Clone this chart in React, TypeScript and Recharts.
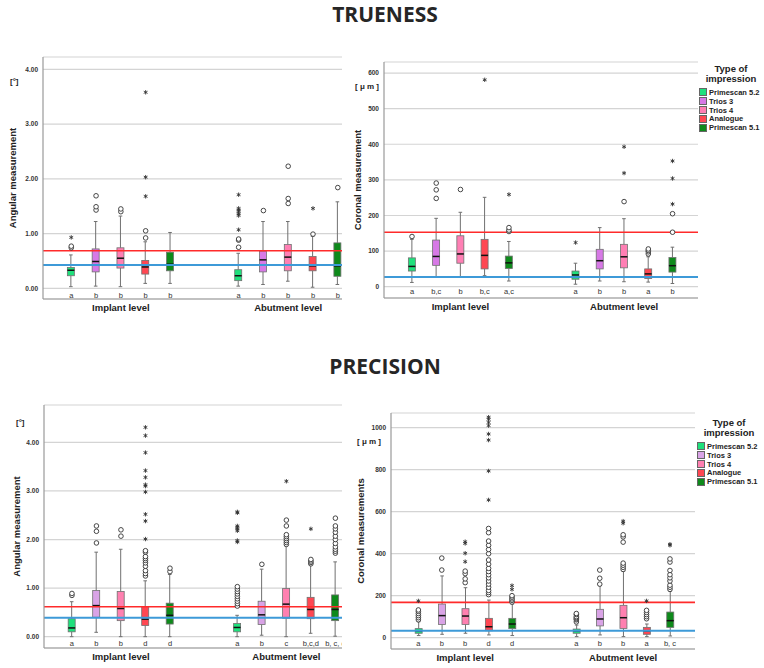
import React from 'react';
import { ComposedChart, Bar, Scatter, XAxis, YAxis, CartesianGrid, ReferenceLine } from 'recharts';

const groups = ['Primescan 5.2', 'Trios 3', 'Trios 4', 'Analogue', 'Primescan 5.1'];
const positions = [1, 2, 3, 4, 5, 7.75, 8.75, 9.75, 10.75, 11.75];
const levelTicks = [3, 9.75];
const levelNames = ['Implant level', 'Abutment level'];

const truenessColors = ['#1fe07c', '#d779e6', '#ff7fb4', '#ff4752', '#0e8a1b'];
const precisionColors = ['#1fe07c', '#d9a3e6', '#ff80b0', '#ff4752', '#0e8a1b'];

// trueness, angular [°]
const taMin = [0.03, 0.04, 0.03, 0.09, 0.09, 0.04, 0.07, 0.13, 0.02, 0.07];
const taQ1 = [0.23, 0.3, 0.37, 0.26, 0.32, 0.14, 0.3, 0.32, 0.32, 0.22];
const taMed = [0.33, 0.49, 0.55, 0.39, 0.44, 0.23, 0.52, 0.57, 0.41, 0.41];
const taQ3 = [0.38, 0.72, 0.74, 0.51, 0.66, 0.34, 0.68, 0.8, 0.58, 0.83];
const taMax = [0.61, 1.22, 1.32, 0.85, 1.02, 0.64, 1.22, 1.22, 0.95, 1.58];
const taCircles = [[0.74, 0.77], [1.43, 1.49, 1.69], [1.4, 1.45], [0.92, 1.05], [], [0.75, 0.88, 0.9], [1.42], [1.55, 1.64, 2.23], [0.99], [1.84]];
const taStars = [[0.93], [], [], [1.68, 2.03, 3.58], [], [1.07, 1.33, 1.36, 1.4, 1.43, 1.46, 1.71], [], [], [1.46], []];
const taLetters = ['a', 'b', 'b', 'b', 'b', 'a', 'b', 'b', 'b', 'b'];

// trueness, coronal [µm]
const tcMin = [12, 28, 28, 31, 16, 7, 16, 14, 13, 9];
const tcQ1 = [44, 60, 66, 50, 51, 21, 50, 53, 23, 41];
const tcMed = [57, 85, 92, 88, 67, 33, 73, 84, 36, 59];
const tcQ3 = [81, 131, 143, 133, 86, 44, 105, 119, 50, 82];
const tcMax = [133, 192, 209, 251, 127, 66, 166, 191, 84, 111];
const tcCircles = [[141], [248, 272, 291], [273], [], [155, 159, 166], [], [], [239], [92, 98, 102, 106], [153, 205]];
const tcStars = [[], [], [], [581], [259], [124], [], [319, 393], [], [232, 304, 353]];
const tcLetters = ['a', 'b,c', 'b', 'b,c', 'a,c', 'a', 'b', 'b', 'a', 'b'];

// precision, angular [°]
const paMin = [0, 0.09, 0, 0, 0, 0, 0.03, 0, 0.07, 0.01];
const paQ1 = [0.1, 0.4, 0.33, 0.23, 0.26, 0.1, 0.25, 0.38, 0.37, 0.33];
const paMed = [0.18, 0.64, 0.58, 0.36, 0.44, 0.19, 0.45, 0.67, 0.56, 0.56];
const paQ3 = [0.37, 0.95, 0.93, 0.62, 0.69, 0.27, 0.73, 0.99, 0.81, 0.86];
const paMax = [0.72, 1.74, 1.8, 1.15, 1.28, 0.44, 1.39, 1.87, 1.48, 1.54];
const paCircles = [
  [0.85, 0.89],
  [1.93, 2.17, 2.28],
  [2.07, 2.2],
  [1.25, 1.3, 1.36, 1.45, 1.52, 1.57, 1.61, 1.65, 1.74, 1.77],
  [1.34, 1.41],
  [0.63, 0.68, 0.73, 0.78, 0.83, 0.88, 0.93, 0.98, 1.03],
  [1.49],
  [1.9, 1.94, 1.98, 2.02, 2.06, 2.1, 2.28, 2.4],
  [1.5, 1.53, 1.56, 1.59],
  [1.72, 1.76, 1.8, 1.85, 1.92, 2.0, 2.07, 2.15, 2.22, 2.28, 2.44],
];
const paStars = [[], [], [], [2.01, 2.38, 2.52, 2.98, 3.1, 3.13, 3.28, 3.42, 3.79, 4.14, 4.31], [], [1.95, 1.98, 2.18, 2.22, 2.25, 2.28, 2.55, 2.57], [], [3.2], [2.22], []];
const paLetters = ['a', 'b', 'b', 'd', 'd', 'a', 'b', 'c', 'b,c,d', 'b, c, d'];

// precision, coronal [µm]
const pcMin = [10, 16, 21, 13, 10, 5, 13, 5, 5, 8];
const pcQ1 = [21, 63, 63, 33, 43, 21, 56, 44, 16, 49];
const pcMed = [32, 105, 103, 52, 65, 32, 89, 95, 32, 81];
const pcQ3 = [43, 160, 138, 92, 92, 41, 135, 154, 49, 122];
const pcMax = [76, 294, 238, 179, 160, 60, 248, 317, 65, 222];
const pcCircles = [
  [85, 95, 105, 115, 125, 132],
  [322, 379],
  [262, 280, 305, 317],
  [205, 215, 225, 240, 255, 270, 285, 300, 315, 330, 350, 370, 400, 420, 440, 460, 500, 520],
  [170, 178, 185, 193, 200],
  [75, 85, 90, 95, 100, 110, 115],
  [255, 283, 322],
  [325, 335, 345, 355, 455, 480, 490],
  [90, 100, 110, 120, 130],
  [230, 240, 250, 270, 285, 300, 320, 360, 375],
];
const pcStars = [[175], [], [362, 402, 449, 457], [656, 794, 941, 970, 1010, 1025, 1040, 1050], [230, 248], [], [], [545, 555], [175], [440, 445]];
const pcLetters = ['a', 'b', 'b', 'd', 'd', 'a', 'b', 'b', 'a', 'b, c'];

const font = '"Liberation Sans", Arial, sans-serif';

const makeRows = (min: number[], q1: number[], med: number[], q3: number[], max: number[], colors: string[]) =>
  positions.map((x, i) => ({
    x,
    range: [min[i], max[i]],
    min: min[i],
    q1: q1[i],
    med: med[i],
    q3: q3[i],
    max: max[i],
    color: colors[i % 5],
  }));

const makeOutliers = (circles: number[][], stars: number[][]) => {
  const out: { x: number; y: number; kind: string }[] = [];
  positions.forEach((x, i) => {
    circles[i].forEach(y => out.push({ x, y, kind: 'o' }));
    stars[i].forEach(y => out.push({ x, y, kind: '*' }));
  });
  return out;
};

const BoxShape = (props: any) => {
  const { x, y, width, height, payload } = props;
  if (!payload) return null;
  const top = Math.min(y, y + height);
  const h = Math.abs(height);
  const span = payload.max - payload.min || 1;
  const py = (v: number) => top + (h * (payload.max - v)) / span;
  const cx = x + width / 2;
  const bw = 7;
  const line = '#707070';
  return (
    <g>
      <line x1={cx} x2={cx} y1={py(payload.max)} y2={py(payload.q3)} stroke={line} strokeWidth={1} />
      <line x1={cx} x2={cx} y1={py(payload.q1)} y2={py(payload.min)} stroke={line} strokeWidth={1} />
      <line x1={cx - 1.8} x2={cx + 1.8} y1={py(payload.max)} y2={py(payload.max)} stroke={line} strokeWidth={1} />
      <line x1={cx - 1.8} x2={cx + 1.8} y1={py(payload.min)} y2={py(payload.min)} stroke={line} strokeWidth={1} />
      <rect x={cx - bw / 2} y={py(payload.q3)} width={bw} height={py(payload.q1) - py(payload.q3)} fill={payload.color} stroke={line} strokeWidth={0.8} />
      <line x1={cx - bw / 2} x2={cx + bw / 2} y1={py(payload.med)} y2={py(payload.med)} stroke="#111" strokeWidth={1.5} />
    </g>
  );
};

const OutlierShape = (props: any) => {
  const { cx, cy, payload } = props;
  if (cx == null || cy == null) return null;
  if (payload.kind === 'o') {
    return <circle cx={cx} cy={cy} r={2.3} fill="#fff" stroke="#333" strokeWidth={0.9} />;
  }
  const r = 2.2;
  return (
    <g stroke="#333" strokeWidth={0.9}>
      <line x1={cx} x2={cx} y1={cy - r} y2={cy + r} />
      <line x1={cx - r * 0.87} x2={cx + r * 0.87} y1={cy - r / 2} y2={cy + r / 2} />
      <line x1={cx - r * 0.87} x2={cx + r * 0.87} y1={cy + r / 2} y2={cy - r / 2} />
    </g>
  );
};

const LetterShape = (props: any) => {
  const { cx, cy, payload } = props;
  if (cx == null || cy == null) return null;
  return (
    <text x={cx} y={cy} textAnchor="middle" dominantBaseline="central" fontSize={7.5} style={{ fill: '#333' }} stroke="none">
      {payload.text}
    </text>
  );
};

type PanelProps = {
  left: number;
  top: number;
  width: number;
  height: number;
  margin: { top: number; right: number; bottom: number; left: number };
  yWidth: number;
  xHeight: number;
  xDomain: [number, number];
  yDomain: [number, number];
  yTicks: number[];
  digits: number;
  yLabel: string;
  labelOffset: number;
  rows: any[];
  outliers: any[];
  letters: string[];
  letterY: number;
  red: number;
  blue: number;
};

const Panel = (p: PanelProps) => {
  const letterRows = positions.map((x, i) => ({ x, y: p.letterY, text: p.letters[i] }));
  return (
    <div style={{ position: 'absolute', left: p.left, top: p.top }}>
      <ComposedChart width={p.width} height={p.height} data={p.rows} margin={p.margin}>
        <CartesianGrid vertical={false} stroke="#d4d4d4" strokeWidth={1.2} />
        <XAxis
          type="number"
          dataKey="x"
          domain={p.xDomain}
          allowDataOverflow
          ticks={levelTicks}
          interval={0}
          tickFormatter={(v: number) => (v === levelTicks[0] ? levelNames[0] : levelNames[1])}
          tickLine={false}
          tickSize={0}
          tickMargin={5}
          height={p.xHeight}
          axisLine={{ stroke: '#999', strokeWidth: 1.2 }}
          tick={{ fontSize: 9.5, fontWeight: 700, fill: '#222' }}
        />
        <YAxis
          type="number"
          domain={p.yDomain}
          allowDataOverflow
          ticks={p.yTicks}
          interval={0}
          tickFormatter={(v: number) => v.toFixed(p.digits)}
          tickLine={false}
          tickSize={3}
          width={p.yWidth}
          axisLine={{ stroke: '#999', strokeWidth: 1.2 }}
          tick={{ fontSize: 6.5, fontWeight: 700, fill: '#333' }}
          label={{
            value: p.yLabel,
            angle: -90,
            position: 'insideLeft',
            offset: p.labelOffset,
            style: { textAnchor: 'middle', fontSize: 9.5, fontWeight: 700, fill: '#222' },
          }}
        />
        <Bar dataKey="range" barSize={8} shape={<BoxShape />} isAnimationActive={false} />
        <ReferenceLine y={p.red} stroke="#ff2b2b" strokeWidth={1.6} />
        <ReferenceLine y={p.blue} stroke="#3d9ad8" strokeWidth={2} />
        <Scatter data={p.outliers} dataKey="y" shape={<OutlierShape />} isAnimationActive={false} />
        <Scatter data={letterRows} dataKey="y" fill="#333" shape={<LetterShape />} isAnimationActive={false} />
      </ComposedChart>
    </div>
  );
};

const LegendBox = ({ left, top, colors }: { left: number; top: number; colors: string[] }) => (
  <div style={{ position: 'absolute', left, top, width: 64, fontFamily: font, color: '#222' }}>
    <div style={{ textAlign: 'center', fontSize: 9.5, fontWeight: 700, lineHeight: '10px', marginBottom: 4 }}>
      <div>Type of</div>
      <div>impression</div>
    </div>
    {groups.map((g, i) => (
      <div key={g} style={{ display: 'flex', alignItems: 'center', height: 8.8, fontSize: 7.5, fontWeight: 700 }}>
        <span style={{ width: 6, height: 6, background: colors[i], border: '0.8px solid #666', marginRight: 2, flexShrink: 0 }} />
        <span style={{ whiteSpace: 'nowrap' }}>{g}</span>
      </div>
    ))}
  </div>
);

const unitStyle = { position: 'absolute' as const, fontFamily: font, fontWeight: 700, fontSize: 8, color: '#222', lineHeight: '10px', whiteSpace: 'pre' as const };
const titleStyle = {
  position: 'absolute' as const,
  left: 0,
  width: 770,
  textAlign: 'center' as const,
  fontFamily: '"Open Sans", sans-serif',
  fontWeight: 700,
  fontSize: 21,
  lineHeight: '21px',
  color: '#262626',
};

export default function App() {
  const taRows = makeRows(taMin, taQ1, taMed, taQ3, taMax, truenessColors);
  const tcRows = makeRows(tcMin, tcQ1, tcMed, tcQ3, tcMax, truenessColors);
  const paRows = makeRows(paMin, paQ1, paMed, paQ3, paMax, precisionColors);
  const pcRows = makeRows(pcMin, pcQ1, pcMed, pcQ3, pcMax, precisionColors);

  return (
    <div style={{ position: 'absolute', left: 0, top: 0, width: 764, height: 668, background: '#fff', fontFamily: font, overflow: 'hidden' }}>
      <div style={{ ...titleStyle, top: 4 }}>TRUENESS</div>
      <div style={{ ...titleStyle, top: 356 }}>PRECISION</div>

      <Panel
        left={0} top={45} width={344} height={280}
        margin={{ top: 12, right: 2, bottom: 4, left: 0 }}
        yWidth={43} xHeight={22}
        xDomain={[-0.14, 11.92]} yDomain={[-0.195, 4.225]}
        yTicks={[0, 1, 2, 3, 4]} digits={2}
        yLabel="Angular measurement" labelOffset={13}
        rows={taRows} outliers={makeOutliers(taCircles, taStars)}
        letters={taLetters} letterY={-0.13}
        red={0.687} blue={0.425}
      />
      <Panel
        left={344} top={45} width={356} height={280}
        margin={{ top: 17, right: 2, bottom: 5, left: 0 }}
        yWidth={40} xHeight={22}
        xDomain={[-0.155, 12.8]} yDomain={[-31.7, 631]}
        yTicks={[0, 100, 200, 300, 400, 500, 600]} digits={0}
        yLabel="Coronal measurement" labelOffset={14}
        rows={tcRows} outliers={makeOutliers(tcCircles, tcStars)}
        letters={tcLetters} letterY={-14}
        red={153} blue={27}
      />
      <Panel
        left={0} top={390} width={344} height={278}
        margin={{ top: 15, right: 2, bottom: 0, left: 0 }}
        yWidth={44} xHeight={20}
        xDomain={[-0.14, 12.02]} yDomain={[-0.233, 4.77]}
        yTicks={[0, 1, 2, 3, 4]} digits={2}
        yLabel="Angular measurement" labelOffset={17}
        rows={paRows} outliers={makeOutliers(paCircles, paStars)}
        letters={paLetters} letterY={-0.15}
        red={0.617} blue={0.39}
      />
      <Panel
        left={344} top={400} width={354} height={268}
        margin={{ top: 13, right: 3, bottom: 0, left: 0 }}
        yWidth={47} xHeight={19}
        xDomain={[-0.17, 12.82]} yDomain={[-54, 1070]}
        yTicks={[0, 200, 400, 600, 800, 1000]} digits={0}
        yLabel="Coronal measurements" labelOffset={17}
        rows={pcRows} outliers={makeOutliers(pcCircles, pcStars)}
        letters={pcLetters} letterY={-27}
        red={168} blue={33}
      />

      <div style={{ ...unitStyle, left: 10, top: 77 }}>[°]</div>
      <div style={{ ...unitStyle, left: 16, top: 418 }}>[°]</div>
      <div style={{ ...unitStyle, left: 355, top: 82 }}>[ μ m ]</div>
      <div style={{ ...unitStyle, left: 357, top: 437 }}>[ μ m ]</div>

      <LegendBox left={699} top={64} colors={truenessColors} />
      <LegendBox left={697} top={418} colors={precisionColors} />
    </div>
  );
}
